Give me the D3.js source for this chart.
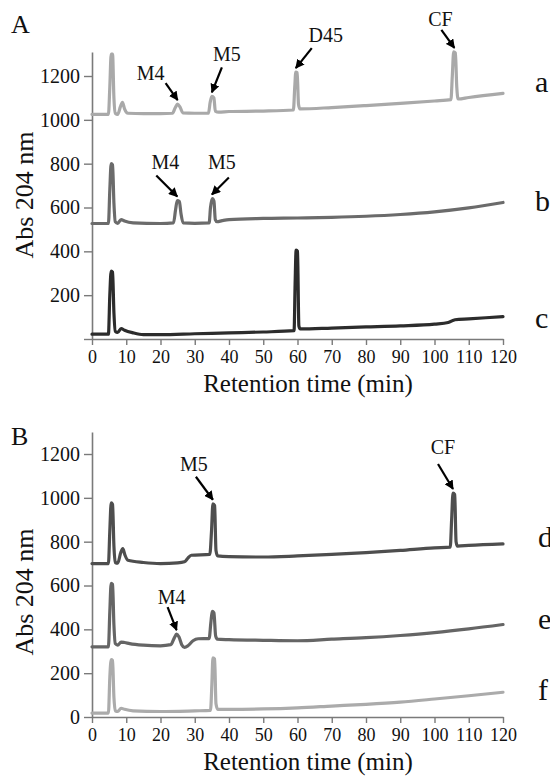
<!DOCTYPE html>
<html><head><meta charset="utf-8">
<script src="https://cdn.jsdelivr.net/npm/d3@7"></script>
<style>body{margin:0;background:#fff}svg{display:block}</style>
</head><body>
<svg id="c" width="550" height="778"></svg>
<script>
// ---------- DATA (time in min, absorbance) ----------
const xTicks = [0,10,20,30,40,50,60,70,80,90,100,110,120];
const yTicksA = [0,200,400,600,800,1000,1200];
const yTicksB = [0,200,400,600,800,1000,1200];

const traceA = [[0,1025],[4.8,1025],[5.2,1150],[5.6,1300],[6.0,1300],[6.4,1100],[6.8,1030],[7.5,1025],[8.3,1060],[8.9,1080],[9.5,1050],[10.5,1030],[15,1028],[20,1028],[23.5,1030],[24.3,1055],[25,1072],[25.8,1055],[26.5,1032],[30,1030],[34,1030],[34.5,1080],[35,1107],[35.6,1100],[36,1040],[37,1035],[40,1038],[50,1040],[58.8,1045],[59.2,1150],[59.5,1218],[59.9,1215],[60.3,1070],[60.7,1050],[70,1056],[80,1065],[90,1075],[100,1086],[104.8,1092],[105.2,1200],[105.6,1310],[106.1,1305],[106.5,1150],[106.9,1095],[110,1102],[120,1121]];
const traceB = [[0,527],[4.8,527],[5.2,680],[5.6,800],[6.0,795],[6.4,620],[6.8,535],[7.5,528],[8.5,545],[9.5,538],[12,530],[20,527],[23.8,530],[24.4,590],[24.9,632],[25.5,628],[26,570],[26.6,530],[30,528],[34.2,530],[34.6,600],[35.1,641],[35.6,630],[36,545],[36.5,535],[38,540],[40,545],[50,550],[60,552],[70,555],[80,560],[90,568],[100,580],[110,598],[120,623]];
const traceC = [[0,22],[4.8,22],[5.2,200],[5.6,310],[6.0,305],[6.4,120],[6.8,35],[7.5,30],[8.5,48],[9.5,40],[12,28],[15,20],[20,20],[30,24],[40,28],[50,32],[59.0,38],[59.3,250],[59.6,406],[60.0,400],[60.4,60],[60.8,46],[70,50],[80,55],[90,60],[100,68],[104,75],[106,88],[110,92],[120,102]];
const traceD = [[0,700],[4.8,700],[5.2,850],[5.6,977],[6.0,970],[6.4,780],[6.8,705],[7.5,702],[8.4,750],[9,768],[9.6,740],[10.5,715],[15,705],[20,700],[25,703],[27,708],[28,725],[29,738],[34.4,742],[34.9,850],[35.3,973],[35.8,965],[36.2,760],[36.7,735],[40,732],[50,730],[60,735],[70,742],[80,750],[90,760],[100,772],[104.6,775],[105.0,900],[105.4,1022],[105.9,1015],[106.3,800],[106.7,780],[110,783],[120,790]];
const traceE = [[0,320],[4.8,320],[5.2,480],[5.6,610],[6.0,605],[6.4,420],[6.8,335],[7.5,328],[8.5,342],[9.5,340],[11,335],[15,328],[20,325],[23,330],[24,360],[24.7,378],[25.4,365],[26.2,330],[27,318],[28,325],[29.5,348],[31,357],[34.2,358],[34.7,430],[35.1,482],[35.6,475],[36.1,370],[36.6,355],[40,353],[50,350],[60,348],[70,355],[80,362],[90,372],[100,385],[110,402],[120,422]];
const traceF = [[0,18],[4.8,18],[5.2,180],[5.6,262],[6.0,258],[6.4,90],[6.8,28],[7.5,25],[8.5,40],[9.5,35],[12,28],[20,25],[30,28],[34.6,30],[35.0,150],[35.3,270],[35.8,265],[36.2,60],[36.7,35],[40,35],[50,37],[60,42],[70,50],[80,58],[90,68],[100,82],[110,97],[120,113]];

const seriesNamesA = ["a","b","c"];
const seriesNamesB = ["d","e","f"];

// annotations: label, peak time, peak value
const annotA = [
  {text:"M4", t:25.0, v:1072, s:[-12,-17], l:[-27,-27]},
  {text:"M5", t:35.0, v:1107, s:[10,-25], l:[15,-38]},
  {text:"D45", t:59.5, v:1218, s:[16,-20], l:[30,-33]},
  {text:"CF", t:105.8, v:1310, s:[-13,-18], l:[-14,-29]},
  {text:"M4", t:24.9, v:632, s:[-21,-21], l:[-12,-34]},
  {text:"M5", t:35.0, v:641, s:[17,-17], l:[10,-33]}
];
const annotB = [
  {text:"M5", t:35.3, v:973, s:[-17,-23], l:[-19,-36]},
  {text:"CF", t:105.4, v:1022, s:[-15,-25], l:[-10,-42]},
  {text:"M4", t:24.7, v:378, s:[-9,-23], l:[-5,-33]}
];

// ---------- DRAW ----------
const FONT = '"Liberation Serif", Tinos, "Times New Roman", serif';
const svg = d3.select("#c");
const x = d3.scaleLinear().domain([0,120]).range([92,503]);

svg.append("defs").append("marker")
  .attr("id","ah").attr("viewBox","0 0 10 10").attr("refX",9).attr("refY",5)
  .attr("markerWidth",4.2).attr("markerHeight",4.2).attr("orient","auto")
  .attr("markerUnits","strokeWidth")
  .append("path").attr("d","M0,0 L10,5 L0,10 z").attr("fill","#000");

function txt(sel, size){
  return sel.style("font-family",FONT).style("font-size",size+"px").attr("fill","#111");
}

function panel(cfg){
  const y = d3.scaleLinear().domain(cfg.ydom).range(cfg.yrange);
  const g = svg.append("g");
  const xa = g.append("g").attr("transform",`translate(0,${y(0)})`)
    .call(d3.axisBottom(x).tickValues(xTicks).tickSize(6).tickPadding(5).tickSizeOuter(0));
  const ya = g.append("g").attr("transform",`translate(${x(0)},0)`)
    .call(d3.axisLeft(y).tickValues(cfg.yticks).tickSize(8).tickPadding(4).tickSizeOuter(0)
      .tickFormat(d => (d===0 && !cfg.zeroLabel) ? "" : d));
  [xa,ya].forEach(a=>{
    a.select(".domain").attr("stroke","#7a7a7a").attr("stroke-width",1.6);
    a.selectAll(".tick line").attr("stroke","#7a7a7a").attr("stroke-width",1.4);
  });
  txt(xa.selectAll("text"),18);
  txt(ya.selectAll("text"),20);
  const line = d3.line().x(d=>x(d[0])).y(d=>y(d[1])).curve(d3.curveMonotoneX);
  cfg.traces.forEach((tr,i)=>{
    g.append("path").attr("d",line(tr)).attr("fill","none")
      .attr("stroke",cfg.colors[i]).attr("stroke-width",3.2)
      .attr("stroke-linejoin","round").attr("stroke-linecap","round");
    const last = tr[tr.length-1];
    txt(g.append("text").attr("x",cfg.labelX).attr("y",y(last[1])+cfg.labelDy[i]),30)
      .text(cfg.names[i]);
  });
  cfg.annot.forEach(a=>{
    const tx = x(a.t), ty = y(a.v)-4;
    g.append("line").attr("x1",tx+a.s[0]).attr("y1",ty+a.s[1]).attr("x2",tx).attr("y2",ty)
      .attr("stroke","#000").attr("stroke-width",2.2).attr("marker-end","url(#ah)");
    txt(g.append("text").attr("x",tx+a.l[0]).attr("y",ty+a.l[1]).attr("dy","0.35em")
      .attr("text-anchor","middle"),20).text(a.text);
  });
  txt(g.append("text").attr("x",308).attr("y",y(0)+53).attr("text-anchor","middle"),25)
    .text("Retention time (min)");
  txt(g.append("text").attr("transform",`translate(24,${cfg.ytitleY}) rotate(-90)`)
    .attr("text-anchor","middle").attr("dy","0.35em"),26).text("Abs 204 nm");
  txt(g.append("text").attr("x",11).attr("y",cfg.letterY),26).text(cfg.letter);
}

panel({ydom:[0,1310], yrange:[339,51.9], yticks:yTicksA, zeroLabel:false,
  traces:[traceA,traceB,traceC], colors:["#a9a9a9","#6b6b6b","#2c2c2c"],
  names:seriesNamesA, labelX:535, labelDy:[-1,9,11], annot:annotA,
  ytitleY:195, letter:"A", letterY:33});
panel({ydom:[0,1300], yrange:[717,432.1], yticks:yTicksB, zeroLabel:true,
  traces:[traceD,traceE,traceF], colors:["#4e4e4e","#656565","#ababab"],
  names:seriesNamesB, labelX:538, labelDy:[3,4,8], annot:annotB,
  ytitleY:592, letter:"B", letterY:445});
</script>
</body></html>
